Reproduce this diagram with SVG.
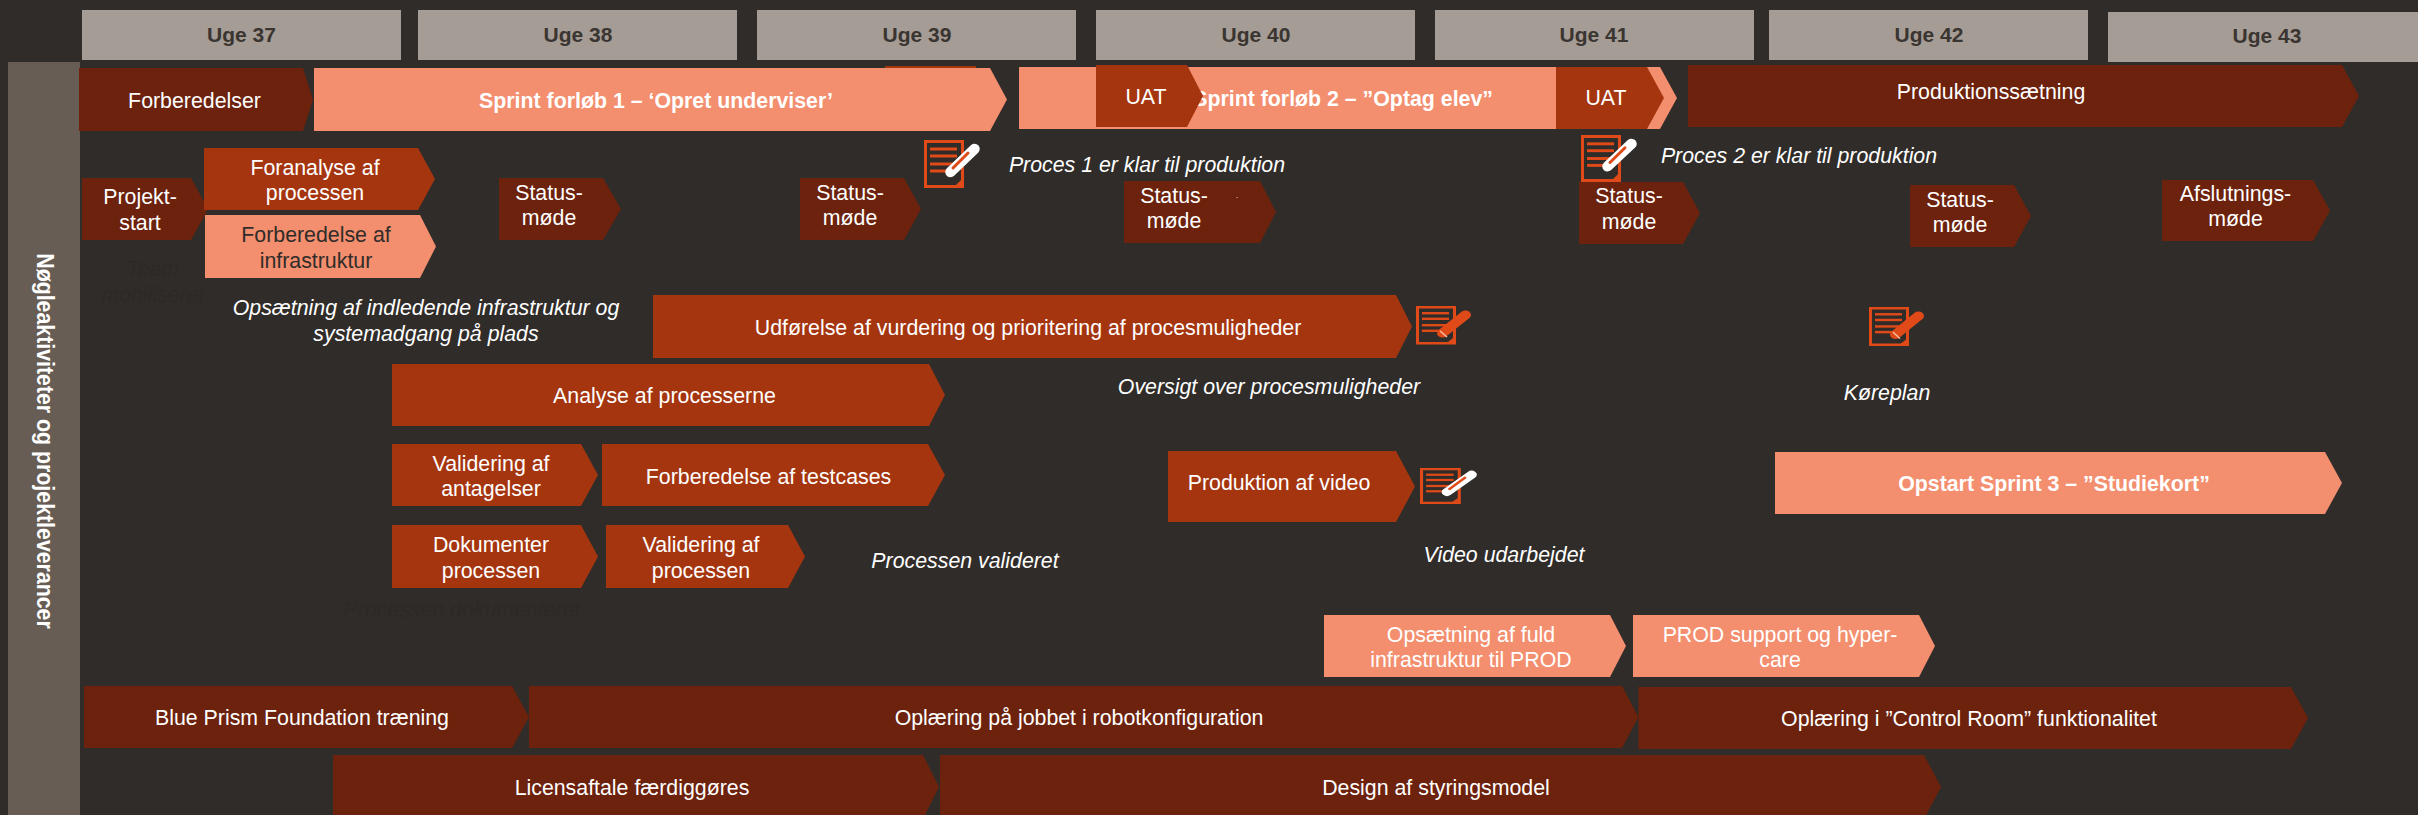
<svg xmlns="http://www.w3.org/2000/svg" xmlns:xlink="http://www.w3.org/1999/xlink" width="2418" height="815" viewBox="0 0 2418 815">
<style>
text{font-family:"Liberation Sans",Arial,sans-serif;font-size:21.33px;fill:#fff;text-anchor:middle}
.wk{fill:#A59C95}
.wt{font-size:21px;font-weight:700;fill:#3A3531}
.dk{fill:#6C220C}
.md{fill:#A5350F}
.sa{fill:#F38E6E}
.b{font-weight:700}
.i{font-style:italic}
.dt{fill:#302C29}
.ft{fill:#2D2926;font-style:italic}
.pg{fill:none;stroke:#DF4A18;stroke-width:3}
.ln{fill:#DF4A18}
</style>
<defs>
<g id="doc">
<path class="pg" d="M1.5 1.5H38.5V46.5H1.5Z"/>
<path fill="#DF4A18" d="M31 46L37 40V46Z"/>
<rect class="ln" x="6" y="7.500" width="27" height="3"/>
<rect class="ln" x="6" y="14.500" width="27" height="3"/>
<rect class="ln" x="6" y="22.500" width="27" height="3"/>
<rect class="ln" x="6" y="29.500" width="27" height="3"/>
</g>
<g id="icon-w">
<use href="#doc"/>
<path d="M26.500 32L50.500 9" stroke="#fff" stroke-width="10.500" stroke-linecap="round" fill="none"/>
<path d="M29 28L44 13" stroke="#DF4A18" stroke-width="3" stroke-linecap="round" fill="none"/>
</g>
<g id="icon-o">
<use href="#doc"/>
<path d="M26.500 34L49.500 11" stroke="#DF4A18" stroke-width="11" stroke-linecap="round" fill="none"/>
<path d="M24 31L31 39" stroke="#F7C4AE" stroke-width="1.500" fill="none"/>
</g>
</defs>
<rect width="2418" height="815" fill="#302C29"/>
<g id="week-37"><rect class="wk" x="82" y="10" width="319" height="50"/><text class="wt" x="241.500" y="42">Uge 37</text></g>
<g id="week-38"><rect class="wk" x="418" y="10" width="319" height="50"/><text class="wt" x="578" y="42">Uge 38</text></g>
<g id="week-39"><rect class="wk" x="757" y="10" width="319" height="50"/><text class="wt" x="917" y="42">Uge 39</text></g>
<g id="week-40"><rect class="wk" x="1096" y="10" width="319" height="50"/><text class="wt" x="1256" y="42">Uge 40</text></g>
<g id="week-41"><rect class="wk" x="1435" y="10" width="319" height="50"/><text class="wt" x="1594" y="42">Uge 41</text></g>
<g id="week-42"><rect class="wk" x="1769" y="10" width="319" height="50"/><text class="wt" x="1929" y="42">Uge 42</text></g>
<g id="week-43"><rect class="wk" x="2108" y="12" width="310" height="50"/><text class="wt" x="2267" y="43">Uge 43</text></g>
<g id="side-label"><rect x="8" y="62" width="72" height="753" fill="#675D54"/><text class="b" transform="translate(36.500 441) rotate(90) scale(1 1.150)">Nøgleaktiviteter og projektleverancer</text></g>
<rect class="md" x="885" y="66" width="91" height="3"/>
<g id="forberedelser"><polygon class="dk" points="79,68 303,68 313,99.500 303,131 79,131"/><text x="194.500" y="108">Forberedelser</text></g>
<g id="sprint-1"><polygon class="sa" points="314,68 990,68 1007,99.500 990,131 314,131"/><text class="b" x="656" y="108">Sprint forløb 1 – ‘Opret underviser’</text></g>
<g id="sprint-2"><polygon class="sa" points="1019,67 1660,67 1677,98 1660,129 1019,129"/><text class="b" x="1493" y="106" style="text-anchor:end">Sprint forløb 2 – ”Optag elev”</text></g>
<g id="uat-1"><polygon class="md" points="1096,65 1187,65 1203,96 1187,127 1096,127"/><text x="1146" y="104">UAT</text></g>
<g id="uat-2"><polygon class="md" points="1556,67 1647,67 1664,98 1647,129 1556,129"/><text x="1606" y="105">UAT</text></g>
<g id="produktionssaetning"><polygon class="dk" points="1688,65 2342,65 2359,96 2342,127 1688,127"/><text x="1991" y="99">Produktionssætning</text></g>
<g id="projektstart"><polygon class="dk" points="82,178 191,178 208,209 191,240 82,240"/><text x="140" y="204">Projekt-</text><text x="140" y="230">start</text></g>
<g id="foranalyse"><polygon class="md" points="204,148 418,148 435,179 418,210 204,210"/><text x="315" y="175">Foranalyse af</text><text x="315" y="200">processen</text></g>
<g id="forberedelse-infra"><polygon class="sa" points="205,215 420,215 436,246.500 420,278 205,278"/><text class="dt" x="316" y="242">Forberedelse af</text><text class="dt" x="316" y="268">infrastruktur</text></g>
<g id="status-1"><polygon class="dk" points="499,178 603,178 621,209 603,240 499,240"/><text x="549" y="200">Status-</text><text x="549" y="225">møde</text></g>
<g id="status-2"><polygon class="dk" points="800,178 904,178 921,209 904,240 800,240"/><text x="850" y="200">Status-</text><text x="850" y="225">møde</text></g>
<g id="status-3"><polygon class="dk" points="1124,181 1260,181 1276,212 1260,243 1124,243"/><text x="1174" y="203">Status-</text><text x="1174" y="228">møde</text><text x="1237" y="198" style="font-size:8px">.</text></g>
<g id="icon-proces-1"><use href="#icon-w" transform="translate(924 140)"/></g>
<g id="icon-proces-2"><use href="#icon-w" transform="translate(1581 135) scale(1 .98)"/></g>
<g id="status-4"><polygon class="dk" points="1579,182 1683,182 1700,213 1683,244 1579,244"/><text x="1629" y="203">Status-</text><text x="1629" y="229">møde</text></g>
<g id="status-5"><polygon class="dk" points="1910,185 2014,185 2031,216 2014,247 1910,247"/><text x="1960" y="207">Status-</text><text x="1960" y="232">møde</text></g>
<g id="afslutning"><polygon class="dk" points="2162,180 2313,180 2330,210.500 2313,241 2162,241"/><text x="2235.500" y="201">Afslutnings-</text><text x="2235.500" y="226">møde</text></g>
<g id="lbl-proces-1"><text class="i" x="1147" y="172">Proces 1 er klar til produktion</text></g>
<g id="lbl-proces-2"><text class="i" x="1799" y="163">Proces 2 er klar til produktion</text></g>
<g id="lbl-team"><text class="ft" x="153" y="276">Team</text><text class="ft" x="153" y="302">mobiliseret</text></g>
<g id="lbl-opsaetning"><text class="i" x="426" y="315">Opsætning af indledende infrastruktur og</text><text class="i" x="426" y="341">systemadgang på plads</text></g>
<g id="udfoerelse"><polygon class="md" points="653,295 1396,295 1412,326.500 1396,358 653,358"/><text x="1028" y="335">Udførelse af vurdering og prioritering af procesmuligheder</text></g>
<g id="icon-oversigt"><use href="#icon-o" transform="translate(1416 306) scale(1 .8)"/></g>
<g id="lbl-oversigt"><text class="i" x="1269" y="394">Oversigt over procesmuligheder</text></g>
<g id="icon-koereplan"><use href="#icon-o" transform="translate(1869 307) scale(1 .81)"/></g>
<g id="lbl-koereplan"><text class="i" x="1887" y="400">Køreplan</text></g>
<g id="analyse"><polygon class="md" points="392,364 929,364 945,395 929,426 392,426"/><text x="664.500" y="403">Analyse af processerne</text></g>
<g id="validering-antagelser"><polygon class="md" points="392,444 581,444 598,475 581,506 392,506"/><text x="491" y="471">Validering af</text><text x="491" y="496">antagelser</text></g>
<g id="testcases"><polygon class="md" points="602,444 928,444 945,475 928,506 602,506"/><text x="768.500" y="484">Forberedelse af testcases</text></g>
<g id="dokumenter"><polygon class="md" points="392,525 581,525 598,556.500 581,588 392,588"/><text x="491" y="552">Dokumenter</text><text x="491" y="578">processen</text></g>
<g id="validering-processen"><polygon class="md" points="606,525 788,525 805,556.500 788,588 606,588"/><text x="701" y="552">Validering af</text><text x="701" y="578">processen</text></g>
<g id="lbl-valideret"><text class="i" x="965" y="568">Processen valideret</text></g>
<g id="lbl-dokumenteret"><text class="ft" x="462" y="617">Processen dokumenteret</text></g>
<g id="video"><polygon class="md" points="1168,451 1396,451 1415,486.500 1396,522 1168,522"/><text x="1279" y="490">Produktion af video</text></g>
<g id="icon-video"><use href="#icon-w" transform="translate(1420 468) scale(1.020 .75)"/></g>
<g id="lbl-video"><text class="i" x="1504" y="562">Video udarbejdet</text></g>
<g id="sprint-3"><polygon class="sa" points="1775,452 2325,452 2342,483 2325,514 1775,514"/><text class="b" x="2054" y="491">Opstart Sprint 3 – ”Studiekort”</text></g>
<g id="opsaetning-prod"><polygon class="sa" points="1324,615 1610,615 1626,646 1610,677 1324,677"/><text x="1471" y="642">Opsætning af fuld</text><text x="1471" y="667">infrastruktur til PROD</text></g>
<g id="prod-support"><polygon class="sa" points="1633,615 1919,615 1935,646 1919,677 1633,677"/><text x="1780" y="642">PROD support og hyper-</text><text x="1780" y="667">care</text></g>
<g id="blue-prism"><polygon class="dk" points="84,686 512,686 529,717 512,748 84,748"/><text x="302" y="725">Blue Prism Foundation træning</text></g>
<g id="oplaering-job"><polygon class="dk" points="529,686 1622,686 1638.500,717 1622,748 529,748"/><text x="1079" y="725">Oplæring på jobbet i robotkonfiguration</text></g>
<g id="control-room"><polygon class="dk" points="1638.500,687 2291,687 2308,718 2291,749 1638.500,749"/><text x="1969" y="726">Oplæring i ”Control Room” funktionalitet</text></g>
<g id="licensaftale"><polygon class="dk" points="333,755 923,755 939,787 923,819 333,819"/><text x="632" y="795">Licensaftale færdiggøres</text></g>
<g id="design"><polygon class="dk" points="940,755 1924,755 1941,787 1924,819 940,819"/><text x="1436" y="795">Design af styringsmodel</text></g>
</svg>
